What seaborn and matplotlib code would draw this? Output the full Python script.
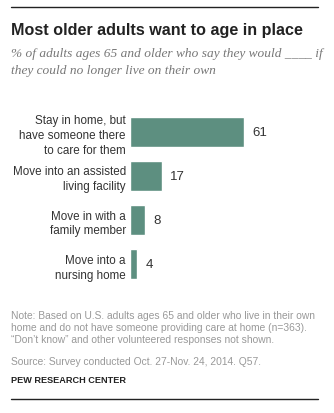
import matplotlib
matplotlib.use("Agg")
import matplotlib.pyplot as plt
import seaborn as sns
import pandas as pd

categories = ["Stay in home, but\nhave someone there\nto care for them",
              "Move into an assisted\nliving facility",
              "Move in with a\nfamily member",
              "Move into a\nnursing home"]
values = [61, 17, 8, 4]

sns.set_theme(style="white")
plt.rcParams['font.family'] = ['Liberation Sans', 'DejaVu Sans']

df = pd.DataFrame({"cat": categories, "val": values})

fig = plt.figure(figsize=(3.34, 4.14), dpi=100)
W, H = 334, 414
ax = fig.add_axes([130 / W, 1 - 280 / H, 188 / W, 162 / H])
sns.barplot(data=df, y="cat", x="val", color="#5d8f80", saturation=1, width=0.68, ax=ax, orient="h")
ax.set_xlim(0, 100.5)
ax.set_ylim(3.34, -0.34)
ax.set_xticks([])
ax.set_xlabel("")
ax.set_ylabel("")
for s in ax.spines.values():
    s.set_visible(False)
ax.tick_params(axis="y", length=0, pad=3, labelsize=8.35, labelcolor="#333333")
for lab in ax.get_yticklabels():
    lab.set_horizontalalignment("right")
    lab.set_multialignment("right")
    lab.set_linespacing(1.33)
for i, v in enumerate(values):
    ax.text(v + 4.5, i, str(v), va="center", ha="left", fontsize=9.5, color="#333333")

# top and bottom rules
fig.add_artist(plt.Line2D([11 / W, 318 / W], [1 - 8 / H, 1 - 8 / H], color="#222222", lw=1))
fig.add_artist(plt.Line2D([11 / W, 318 / W], [1 - 400 / H, 1 - 400 / H], color="#222222", lw=1))

fig.text(11 / W, 1 - 30 / H, "Most older adults want to age in place", fontsize=11.6,
         fontweight="bold", color="#222222", va="center", ha="left")
fig.text(11 / W, 1 - 62.5 / H, "% of adults ages 65 and older who say they would ____ if\nthey could no longer live on their own",
         fontsize=9.6, style="italic", family=["Liberation Serif", "DejaVu Serif"], color="#777777",
         va="center", ha="left", linespacing=1.45)
fig.text(11 / W, 1 - 328 / H,
         "Note: Based on U.S. adults ages 65 and older who live in their own\nhome and do not have someone providing care at home (n=363).\n\u201cDon\u2019t know\u201d and other volunteered responses not shown.",
         fontsize=7.4, color="#999999", va="center", ha="left", linespacing=1.3)
fig.text(11 / W, 1 - 362 / H, "Source: Survey conducted Oct. 27-Nov. 24, 2014. Q57.",
         fontsize=7.4, color="#999999", va="center", ha="left")
fig.text(11 / W, 1 - 381 / H, "PEW RESEARCH CENTER", fontsize=6.6, fontweight="bold",
         color="#222222", va="center", ha="left")

fig.savefig("out.png", dpi=100)
